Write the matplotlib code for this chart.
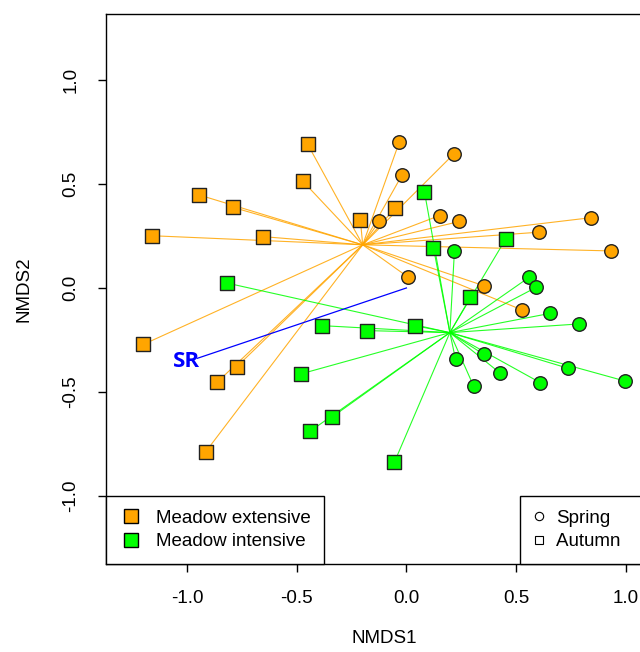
import numpy as np
import matplotlib
matplotlib.use('Agg')
import matplotlib.pyplot as plt
from matplotlib.lines import Line2D

plt.rcParams['font.family'] = ['Liberation Sans', 'DejaVu Sans']

# --NMDS scores
ext_aut_x = [-0.451, -0.473, -0.945, -0.793, -1.158, -0.656, -0.210, -0.052, -1.199, -0.773, -0.864, -0.915]
ext_aut_y = [0.692, 0.514, 0.447, 0.388, 0.251, 0.247, 0.327, 0.383, -0.271, -0.378, -0.454, -0.787]
ext_spr_x = [-0.032, 0.215, -0.020, -0.123, 0.151, 0.242, 0.843, 0.603, 0.935, 0.009, 0.352, 0.528]
ext_spr_y = [0.703, 0.643, 0.543, 0.322, 0.348, 0.320, 0.338, 0.268, 0.178, 0.051, 0.011, -0.106]
int_aut_x = [0.082, 0.123, 0.452, 0.292, 0.037, -0.180, -0.816, -0.387, -0.481, -0.341, -0.438, -0.055]
int_aut_y = [0.463, 0.194, 0.234, -0.045, -0.181, -0.205, 0.023, -0.181, -0.413, -0.622, -0.688, -0.838]
int_spr_x = [0.219, 0.559, 0.592, 0.656, 0.787, 0.224, 0.352, 0.428, 0.306, 0.610, 0.737, 0.995]
int_spr_y = [0.178, 0.051, 0.003, -0.122, -0.173, -0.343, -0.319, -0.410, -0.471, -0.455, -0.386, -0.447]
sr_x, sr_y = -0.953, -0.338

groups = ['Meadow extensive', 'Meadow intensive']
colors = ['#FFA500', '#00FF00']

fig = plt.figure(figsize=(6.4, 6.52), dpi=100)
ax = fig.add_axes([106 / 640, 88 / 652, 557 / 640, 550 / 652])

data = [
    (ext_spr_x, ext_spr_y, ext_aut_x, ext_aut_y),
    (int_spr_x, int_spr_y, int_aut_x, int_aut_y),
]

# --spiders: lines from the group centroid to every site
for (sx, sy, ax_, ay), col in zip(data, colors):
    xs = np.array(sx + ax_)
    ys = np.array(sy + ay)
    cx, cy = xs.mean(), ys.mean()
    for x, y in zip(xs, ys):
        ax.plot([cx, x], [cy, y], color=col, lw=0.8, alpha=0.85, zorder=1)

# --envfit vector
ax.plot([0, sr_x], [0, sr_y], color='#0000FF', lw=0.9, zorder=1)
ax.text(sr_x + 0.01, sr_y - 0.015, 'SR', color='#0000FF', fontsize=16,
        fontweight='bold', ha='right', va='center', family=['Open Sans', 'DejaVu Sans'])

# --points
for (sx, sy, ax_, ay), col in zip(data, colors):
    ax.scatter(sx, sy, marker='o', s=95, c=col, edgecolors='#222222', linewidths=1, zorder=3)
    ax.scatter(ax_, ay, marker='s', s=110, c=col, edgecolors='#222222', linewidths=1, zorder=3)

ax.set_xlim(-1.37, 1.17)
ax.set_ylim(-1.327, 1.317)
ax.set_xticks([-1.0, -0.5, 0.0, 0.5, 1.0])
ax.set_yticks([-1.0, -0.5, 0.0, 0.5, 1.0])
ax.set_xticklabels(['-1.0', '-0.5', '0.0', '0.5', '1.0'])
ax.set_yticklabels(['-1.0', '-0.5', '0.0', '0.5', '1.0'], rotation=90, va='center')
ax.tick_params(axis='both', direction='out', length=6, width=1, labelsize=13.5, colors='black')
ax.tick_params(axis='x', pad=13)
ax.tick_params(axis='y', pad=13)
for s in ax.spines.values():
    s.set_linewidth(1)
ax.set_xlabel('NMDS1', fontsize=13.5, labelpad=16)
ax.set_ylabel('NMDS2', fontsize=13.5, labelpad=22)

# --legends
h1 = [Line2D([], [], ls='', marker='s', ms=10, mfc=c, mec='black', mew=1) for c in colors]
leg1 = ax.legend(h1, groups, loc='lower left', bbox_to_anchor=(0, 0), borderaxespad=0,
                 fontsize=13.5, fancybox=False, framealpha=1, edgecolor='black',
                 handletextpad=0.75, labelspacing=0.36, borderpad=0.72, handlelength=1.2)
leg1.get_frame().set_linewidth(1)
ax.add_artist(leg1)

h2 = [Line2D([], [], ls='', marker=m, ms=6, mfc='white', mec='black', mew=0.8) for m in ['o', 's']]
leg2 = ax.legend(h2, ['Spring', 'Autumn    '], loc='lower left', bbox_to_anchor=((520 - 106) / 557, 0),
                 borderaxespad=0, fontsize=13.5, fancybox=False, framealpha=1, edgecolor='black',
                 handletextpad=0.6, labelspacing=0.36, borderpad=0.72, handlelength=0.6)
leg2.get_frame().set_linewidth(1)

plt.savefig('out.png', dpi=100)
